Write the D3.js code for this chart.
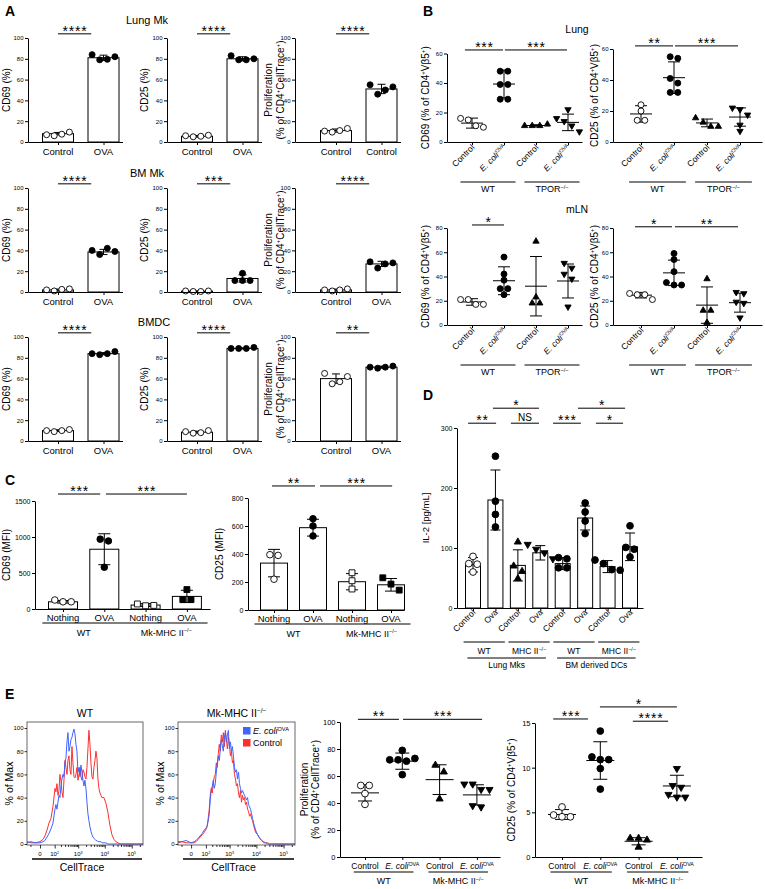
<!DOCTYPE html>
<html>
<head>
<meta charset="utf-8">
<script src="https://cdn.jsdelivr.net/npm/d3@7.9.0/dist/d3.min.js"></script>
<style>
  body { margin: 0; background: #fff; }
  svg { display: block; background: #fff; }
</style>
</head>
<body>
<svg id="fig" width="765" height="889"></svg>
<script>
const FONT = '"Liberation Sans", Arial, Helvetica, sans-serif';

// ---------------- Panel A ----------------
const aCats = ['Control', 'OVA'];
const aCatsLungProlif = ['Control', 'Control']; // printed this way in the figure
const aTicks = [0, 20, 40, 60, 80, 100];
const aTitles = ['Lung Mk', 'BM Mk', 'BMDC'];
const aYLabels = [['CD69 (%)'], ['CD25 (%)'], ['Proliferation', '(% of CD4^{+}CellTrace^{+})']];

// per row: [CD69, CD25, proliferation], each [control, OVA]
const lungMkMeans = [[8, 81], [5.5, 80], [11, 51]];
const lungMkSds = [[1.2, 2.5], [0.8, 2], [1.5, 4.5]];
const lungMkPts = [
  [[7, 6, 7.5, 9.5], [84, 79, 79.5, 82]],
  [[6, 5, 5.5, 6.5], [83, 79, 79, 80]],
  [[10.5, 9.5, 11, 13], [55, 46, 50, 53]]
];
const lungMkStars = ['****', '****', '****'];

const bmMkMeans = [[2, 38.5], [0.8, 13], [2, 27]];
const bmMkSds = [[0.8, 2.5], [0.3, 3.5], [0.8, 2.5]];
const bmMkPts = [
  [[2, 1, 2.5, 3], [40, 36, 42, 39]],
  [[1, 0.5, 0.5, 1], [11, 11, 11, 18]],
  [[2, 1, 2, 3], [29, 23, 27, 28]]
];
const bmMkStars = ['****', '***', '****'];

const bmdcMeans = [[10, 84], [8.5, 89], [60, 71]];
const bmdcSds = [[0.8, 1], [1, 0.5], [4.5, 1]];
const bmdcPts = [
  [[10, 9, 10, 11], [84, 83, 84, 86]],
  [[9, 7.5, 8, 10], [89, 89, 89, 90]],
  [[65, 55, 57, 62], [71, 70, 71, 72]]
];
const bmdcStars = ['****', '****', '**'];

// ---------------- Panel B ----------------
const bCats = ['Control', '*{E. coli}^{OVA}', 'Control', '*{E. coli}^{OVA}'];
const bGroups = ['WT', 'TPOR^{−/−}'];
const bShapes = ['circleOpen', 'circle', 'triUp', 'triDown'];

const lungCD69Mean = [12.8, 39.3, 11.2, 13.3];
const lungCD69Sd = [3.4, 9.5, 0.5, 5.6];
const lungCD69Pts = [[16, 15, 11, 10], [48, 48, 39, 39, 29, 29], [11, 11, 11, 12], [22, 16, 14, 11, 7]];

const lungCD25Mean = [18.1, 41.5, 12.3, 16.1];
const lungCD25Sd = [5.3, 10.2, 2.5, 5.9];
const lungCD25Pts = [[24, 20, 14, 14], [55, 54, 41, 38, 32, 32], [15.5, 12.7, 10, 10], [22, 21, 17.5, 11, 7]];

const mlnCD69Mean = [19, 36.5, 32, 36.3];
const mlnCD69Sd = [2.7, 11.5, 24.5, 14];
const mlnCD69Pts = [[21, 21, 17, 17], [56, 42, 37, 30, 30, 25], [69, 23, 18, 18], [51, 47, 42, 38, 15]];

const mlnCD25Mean = [24.6, 43, 16.4, 18.4];
const mlnCD25Sd = [2.3, 10.5, 15, 7.8];
const mlnCD25Pts = [[26, 25, 25, 21], [59, 54, 44, 35, 33, 33], [38, 12, 12, 2], [27, 26, 19, 18, 6]];

// ---------------- Panel C ----------------
const cCats = ['Nothing', 'OVA', 'Nothing', 'OVA'];
const cGroups = ['WT', 'Mk-MHC II^{−/−}'];
const cShapes = ['circleOpen', 'circle', 'squareOpen', 'square'];

const cd69MfiMean = [100, 830, 55, 175];
const cd69MfiSd = [18, 215, 20, 85];
const cd69MfiPts = [[125, 100, 100], [970, 945, 580], [70, 45, 50], [270, 130, 130]];

const cd25MfiMean = [335, 588, 202, 180];
const cd25MfiSd = [98, 60, 58, 45];
const cd25MfiPts = [[395, 390, 220], [652, 600, 529], [266, 209, 150], [230, 185, 142]];

// ---------------- Panel D ----------------
const dCats = ['Control', 'Ova', 'Control', 'Ova', 'Control', 'Ova', 'Control', 'Ova'];
const dGroups1 = ['WT', 'MHC II^{−/−}', 'WT', 'MHC II^{−/−}'];
const dGroups2 = ['Lung Mks', 'BM derived DCs'];
const dShapes = ['circleOpen', 'circle', 'triUp', 'triDown', 'circle', 'circle', 'circle', 'circle'];
const il2Mean = [72, 180, 71, 92, 74, 150, 69, 102];
const il2Sd = [12, 50, 26, 12, 10, 20, 10, 23];
const il2Pts = [[86, 60, 74, 73], [253, 178, 156, 135], [110, 70, 61, 49], [106, 98, 92, 82],
                [84, 82, 67, 67], [175, 160, 145, 124], [80, 74, 64, 63], [137, 101, 98, 85]];

// ---------------- Panel E ----------------
const ctGrid = [-81, -46, -21, 0, 12, 21, 33, 46, 62, 81,
  104, 116, 130, 146, 162, 180, 200, 221, 244, 270,
  297, 327, 360, 395, 434, 476, 522, 572, 626, 686,
  751, 821, 897, 981, 1072, 1171, 1278, 1396, 1524, 1663,
  1814, 1980, 2160, 2355, 2568, 2800, 3052, 3328, 3628, 3956,
  4308, 4696, 5116, 5580, 6080, 6620, 7212, 7860, 9328, 11072,
  13140, 15592, 18500, 21952, 26044, 30892, 36600, 262144];
const wtEcoli = [1, 2, 1, 1, 2, 3, 6, 9, 13, 18,
  30, 34, 30, 36, 42, 40, 50, 56, 60, 58,
  70, 74, 88, 96, 80, 84, 90, 92, 96, 99,
  95, 86, 80, 62, 66, 58, 68, 62, 55, 50,
  55, 48, 36, 26, 20, 15, 11, 8, 6, 5,
  4, 3, 3, 2, 2, 2, 2, 1, 1, 1,
  0, 0, 0, 0, 0, 0, 0, 0];
const wtControl = [2, 1, 1, 2, 4, 7, 12, 18, 22, 32,
  48, 45, 52, 42, 46, 60, 54, 45, 40, 55,
  72, 66, 60, 72, 76, 64, 60, 84, 70, 58,
  57, 60, 66, 55, 60, 66, 58, 55, 64, 62,
  58, 56, 66, 82, 98, 86, 70, 58, 56, 66,
  72, 80, 74, 56, 48, 44, 42, 40, 40, 35,
  27, 16, 8, 4, 2, 1, 0, 0];
const mhcEcoli = [2, 2, 3, 1, 2, 3, 5, 7, 9, 12,
  14, 16, 20, 26, 38, 46, 50, 55, 48, 52,
  62, 70, 76, 72, 82, 90, 85, 80, 92, 96,
  88, 94, 98, 82, 88, 80, 84, 76, 66, 62,
  64, 56, 62, 52, 48, 44, 46, 44, 42, 40,
  38, 40, 34, 32, 30, 26, 22, 18, 12, 8,
  5, 3, 1, 1, 0, 0, 0, 0];
const mhcControl = [1, 2, 1, 1, 1, 2, 4, 6, 8, 10,
  13, 15, 22, 30, 42, 48, 44, 52, 58, 60,
  70, 66, 78, 86, 80, 94, 88, 96, 84, 98,
  90, 82, 92, 86, 76, 80, 70, 72, 60, 56,
  50, 52, 44, 40, 46, 36, 42, 38, 40, 34,
  36, 30, 28, 24, 26, 22, 20, 16, 10, 8,
  5, 3, 2, 1, 1, 0, 0, 0];
const histMajor = [0, 100, 1000, 10000, 100000];
const histLabels = ['0', '10^{2}', '10^{3}', '10^{4}', '10^{5}'];

const eCats = ['Control', '*{E. coli}^{OVA}', 'Control', '*{E. coli}^{OVA}'];
const eGroups = ['WT', 'Mk-MHC II^{−/−}'];
const eShapes = ['circleOpen', 'circle', 'triUp', 'triDown'];
const eProlifMean = [47.5, 71, 57.3, 46];
const eProlifSd = [6, 6, 11, 7.5];
const eProlifPts = [[53, 53, 47, 39], [79, 72, 72, 71, 73, 61], [68, 63, 43], [54, 54, 50, 50, 38, 37]];
const eCD25Mean = [4.76, 10.8, 1.76, 7.95];
const eCD25Sd = [0.55, 2.1, 0.4, 1.2];
const eCD25Pts = [[5.6, 4.7, 4.5, 4.5], [14.1, 11.2, 10.9, 10.9, 9.9, 7.6], [2.1, 2.1, 1.9, 1.1], [9.9, 8, 7.8, 7, 6.7, 6.7]];

const BLUE = '#3f63ff', RED = '#ff2e2e';

// ---------------- helpers ----------------
const svg = d3.select('#fig');

// "^{..}" = superscript, "*{..}" = italic
function rich(sel, str) {
  const fs = parseFloat(sel.attr('font-size'));
  const parts = str.match(/\^\{[^}]*\}|\*\{[^}]*\}|[^^*]+/g);
  let shift = 0;
  parts.forEach(p => {
    let t = p, sup = false, it = false;
    if (p.startsWith('^{')) { t = p.slice(2, -1); sup = true; }
    else if (p.startsWith('*{')) { t = p.slice(2, -1); it = true; }
    const target = sup ? -fs * 0.38 : 0;
    const ts = sel.append('tspan').text(t).attr('dy', target - shift);
    shift = target;
    if (sup) ts.attr('font-size', fs * 0.62);
    if (it) ts.attr('font-style', 'italic');
  });
}

function txt(g, x, y, fs, anchor) {
  return g.append('text').attr('x', x).attr('y', y).attr('font-size', fs)
    .attr('font-family', FONT).attr('text-anchor', anchor || 'middle').attr('fill', '#000');
}

function seg(g, x1, y1, x2, y2, w) {
  g.append('line').attr('x1', x1).attr('y1', y1).attr('x2', x2).attr('y2', y2)
    .attr('stroke', '#000').attr('stroke-width', w || 1);
}

function symbolPath(shape, r) {
  if (shape.startsWith('tri')) return d3.symbol().type(d3.symbolTriangle).size(r * r * 1.9)();
  if (shape.startsWith('square')) return d3.symbol().type(d3.symbolSquare).size(r * r * 3.2)();
  return d3.symbol().type(d3.symbolCircle).size(Math.PI * r * r)();
}

// spread points that would overlap vertically side by side
function swarm(vals, y, r) {
  const order = d3.range(vals.length).sort((a, b) => vals[b] - vals[a]);
  const off = vals.map(() => 0);
  let cl = [order[0]];
  const flush = () => {
    const m = cl.length;
    cl.slice().sort((a, b) => a - b).forEach((k, j) => { off[k] = (j - (m - 1) / 2) * (2 * r + 1.6); });
  };
  for (let k = 1; k < order.length; k++) {
    if (Math.abs(y(vals[order[k]]) - y(vals[cl[cl.length - 1]])) < 2 * r) cl.push(order[k]);
    else { flush(); cl = [order[k]]; }
  }
  flush();
  return off;
}

function panel(c) {
  const g = svg.append('g');
  const n = c.cats.length;
  const y = d3.scaleLinear().domain([0, c.ymax]).range([c.yBot, c.yTop]);
  const x = d3.scaleLinear()
    .domain([(c.ax - c.c0) / c.step, (c.xEnd - c.c0) / c.step])
    .range([c.ax, c.xEnd]);

  c.means.forEach((m, i) => {
    const cx = x(i), s = c.sds[i];
    if (c.barW) {
      g.append('rect').attr('x', cx - c.barW / 2).attr('y', y(m))
        .attr('width', c.barW).attr('height', c.yBot - y(m))
        .attr('fill', '#fff').attr('stroke', '#000').attr('stroke-width', 1);
    } else {
      seg(g, cx - c.meanW / 2, y(m), cx + c.meanW / 2, y(m));
    }
    seg(g, cx, y(m + s), cx, Math.min(y(m - s), c.yBot));
    seg(g, cx - c.cap / 2, y(m + s), cx + c.cap / 2, y(m + s));
    if (m - s > 0) seg(g, cx - c.cap / 2, y(m - s), cx + c.cap / 2, y(m - s));
  });

  c.pts.forEach((arr, i) => {
    const off = swarm(arr, y, c.r);
    const shape = c.shapes[i];
    arr.forEach((v, k) => {
      g.append('path').attr('d', symbolPath(shape, c.r))
        .attr('transform', `translate(${x(i) + off[k]},${y(v)})${shape === 'triDown' ? ' rotate(180)' : ''}`)
        .attr('fill', shape.endsWith('Open') ? '#fff' : '#000')
        .attr('stroke', '#000').attr('stroke-width', 0.9);
    });
  });

  const ya = g.append('g').attr('transform', `translate(${c.ax},0)`)
    .call(d3.axisLeft(y).tickValues(c.ticks).tickFormat(d3.format('d'))
      .tickSize(3).tickSizeOuter(0).tickPadding(1.5));
  ya.selectAll('text').attr('font-size', c.tickFs).attr('font-family', FONT).attr('fill', '#000');
  g.append('g').attr('transform', `translate(0,${c.yBot})`)
    .call(d3.axisBottom(x).tickValues(d3.range(n)).tickSize(3).tickSizeOuter(0).tickFormat(''));
  g.selectAll('.domain, .tick line').attr('stroke', '#000').attr('stroke-width', 1);

  c.cats.forEach((t, i) => {
    let el;
    if (c.rot) {
      el = txt(g, 0, 0, c.labFs, 'end')
        .attr('transform', `translate(${x(i) + c.rotDx},${c.yBot + c.rotDy}) rotate(-45)`);
    } else {
      el = txt(g, x(i), c.yBot + c.labDy, c.labFs);
    }
    rich(el, t);
  });

  (c.groups || []).forEach(([i0, i1, t, lev]) => {
    const L = lev || 0;
    const ly = c.yBot + c.grpDy[L];
    const pad = c.grpPad[L] * c.step;
    seg(g, x(i0) - pad, ly, x(i1) + pad, ly);
    rich(txt(g, (x(i0) + x(i1)) / 2, ly + c.grpTy[L], c.grpFs), t);
  });

  (c.sigs || []).forEach(([i0, i1, t, v]) => {
    const ly = y(v);
    seg(g, x(i0), ly, x(i1), ly);
    if (t === 'NS') {
      txt(g, (x(i0) + x(i1)) / 2, ly - 2.5, 10).text(t);
    } else {
      txt(g, (x(i0) + x(i1)) / 2 + 0.5, ly + 2, 14).attr('letter-spacing', 0.8).text(t);
    }
  });

  c.ylab.forEach(([t, lx]) => {
    rich(txt(g, 0, 0, c.ylabFs).attr('dy', '0.35em')
      .attr('transform', `translate(${lx},${(c.yTop + c.yBot) / 2}) rotate(-90)`), t);
  });
}

function histo(c) {
  const g = svg.append('g');
  const x = d3.scaleSymlog().constant(40).domain([-81, 262144]).range([c.x0, c.x1]);
  const y = d3.scaleLinear().domain([0, 100]).range([c.y0, c.y100]);
  const line = d3.line().x((d, i) => x(ctGrid[i])).y(d => y(d));
  c.curves.forEach(([vals, col]) => {
    g.append('path').attr('d', line(vals)).attr('fill', 'none')
      .attr('stroke', col).attr('stroke-width', 1);
  });
  g.append('rect').attr('x', c.x0).attr('y', c.top).attr('width', c.x1 - c.x0)
    .attr('height', c.bot - c.top).attr('fill', 'none').attr('stroke', '#444').attr('stroke-width', 0.8);

  const ya = g.append('g').attr('transform', `translate(${c.x0},0)`)
    .call(d3.axisLeft(y).tickValues([0, 20, 40, 60, 80, 100]).tickSize(2.5).tickPadding(1));
  ya.select('.domain').remove();
  ya.selectAll('text').attr('font-size', 6).attr('font-family', FONT).attr('fill', '#000');

  const minor = d3.range(200, 1000, 100).concat(d3.range(2000, 10000, 1000), d3.range(20000, 100000, 10000), [200000, -50]);
  const xm = g.append('g').attr('transform', `translate(0,${c.bot})`)
    .call(d3.axisBottom(x).tickValues(minor).tickSize(2).tickFormat(''));
  xm.select('.domain').remove();
  const xa = g.append('g').attr('transform', `translate(0,${c.bot})`)
    .call(d3.axisBottom(x).tickValues(histMajor).tickSize(3.5).tickPadding(1).tickFormat(''));
  xa.select('.domain').remove();
  histMajor.forEach((v, i) => rich(txt(g, x(v), c.bot + 11, 6), histLabels[i]));
  g.selectAll('.tick line').attr('stroke', '#000').attr('stroke-width', 0.8);

  seg(g, c.x0 + 5, c.bot + 14, c.x1 - 1, c.bot + 14, 1.6);
  txt(g, (c.x0 + c.x1) / 2 - 3, c.bot + 26, 10.5).text('CellTrace');
  rich(txt(g, (c.x0 + c.x1) / 2, c.top - 5, 10.5), c.title);
  txt(g, 0, 0, 10.5).attr('dy', '0.35em')
    .attr('transform', `translate(${c.x0 - 18},${(c.top + c.bot) / 2}) rotate(-90)`).text('% of Max');
}

// ---------------- panel letters ----------------
[['A', 5, 16], ['B', 423, 16], ['C', 5, 485], ['D', 423, 400], ['E', 5, 699]].forEach(([t, x, y]) => {
  txt(svg, x, y, 14, 'start').attr('font-weight', 'bold').text(t);
});

// ---------------- draw A ----------------
const aRowY = [[142, 38], [292, 188], [441, 337]];
const aColX = [[28, 58], [167, 197], [295, 336]];
const aYLabX = [[10], [148], [272, 283.5]];
const aTitleX = [[147, 24], [147, 177], [154, 326]];
const aRowData = [[lungMkMeans, lungMkSds, lungMkPts, lungMkStars],
                  [bmMkMeans, bmMkSds, bmMkPts, bmMkStars],
                  [bmdcMeans, bmdcSds, bmdcPts, bmdcStars]];
aRowData.forEach(([means, sds, pts, stars], r) => {
  txt(svg, aTitleX[r][0], aTitleX[r][1], 11).text(aTitles[r]);
  for (let k = 0; k < 3; k++) {
    panel({
      ax: aColX[k][0], c0: aColX[k][1], step: 45.5, xEnd: aColX[k][1] + 45.5 + 19,
      yBot: aRowY[r][0], yTop: aRowY[r][1], ymax: 100, ticks: aTicks, tickFs: 6,
      cats: (r === 0 && k === 2) ? aCatsLungProlif : aCats, labFs: 9.5, labDy: 13,
      means: means[k], sds: sds[k], pts: pts[k], shapes: ['circleOpen', 'circle'],
      barW: 31, cap: 8, r: 3,
      sigs: [[0, 0.73, stars[k], 104]],
      ylab: aYLabels[k].map((t, j) => [t, aYLabX[k][j]]), ylabFs: 10
    });
  }
});

// ---------------- draw B ----------------
txt(svg, 577, 33, 10.5).text('Lung');
txt(svg, 577, 213, 10.5).text('mLN');
const bCommon = {
  cats: bCats, rot: true, labFs: 8.5, rotDx: 3, rotDy: 6, tickFs: 6,
  shapes: bShapes, r: 3, meanW: 22, cap: 12,
  groups: [[0, 1, bGroups[0]], [2, 3, bGroups[1]]], grpDy: [40], grpTy: [10], grpPad: [0.36], grpFs: 9,
  ylabFs: 10
};
panel(Object.assign({}, bCommon, {
  ax: 447, c0: 472, step: 32, xEnd: 582, yBot: 142, yTop: 53.5, ymax: 60, ticks: [0, 20, 40, 60],
  means: lungCD69Mean, sds: lungCD69Sd, pts: lungCD69Pts,
  sigs: [[-0.22, 0.97, '***', 62.4], [1.03, 2.97, '***', 62.4]],
  ylab: [['CD69 (% of CD4^{+}Vβ5^{+})', 428.5]]
}));
panel(Object.assign({}, bCommon, {
  ax: 613, c0: 641, step: 33, xEnd: 762, yBot: 142, yTop: 49, ymax: 60, ticks: [0, 20, 40, 60],
  means: lungCD25Mean, sds: lungCD25Sd, pts: lungCD25Pts,
  sigs: [[-0.18, 0.97, '**', 62], [1.03, 2.94, '***', 62]],
  ylab: [['CD25 (% of CD4^{+}Vβ5^{+})', 597.5]]
}));
panel(Object.assign({}, bCommon, {
  ax: 447, c0: 472, step: 32, xEnd: 582, yBot: 325, yTop: 228, ymax: 80, ticks: [0, 20, 40, 60, 80],
  means: mlnCD69Mean, sds: mlnCD69Sd, pts: mlnCD69Pts,
  sigs: [[0, 1, '*', 82.5]],
  ylab: [['CD69 (% of CD4^{+}Vβ5^{+})', 428.5]]
}));
panel(Object.assign({}, bCommon, {
  ax: 613, c0: 641, step: 33, xEnd: 762, yBot: 325, yTop: 228, ymax: 80, ticks: [0, 20, 40, 60, 80],
  means: mlnCD25Mean, sds: mlnCD25Sd, pts: mlnCD25Pts,
  sigs: [[-0.18, 0.94, '*', 81], [1.03, 2.94, '**', 81]],
  ylab: [['CD25 (% of CD4^{+}Vβ5^{+})', 598]]
}));

// ---------------- draw C ----------------
const cCommon = {
  cats: cCats, labFs: 9.5, labDy: 11.5, tickFs: 7, shapes: cShapes, r: 3.3, cap: 12,
  groups: [[0, 1, cGroups[0]], [2, 3, cGroups[1]]], grpDy: [14], grpTy: [12.5], grpPad: [0.5], grpFs: 9,
  ylabFs: 10
};
panel(Object.assign({}, cCommon, {
  ax: 35, c0: 63, step: 41.3, xEnd: 210, yBot: 609, yTop: 501, ymax: 1500, ticks: [0, 500, 1000, 1500],
  means: cd69MfiMean, sds: cd69MfiSd, pts: cd69MfiPts, barW: 29,
  sigs: [[-0.12, 0.9, '***', 1597], [1.04, 3.0, '***', 1597]],
  ylab: [['CD69 (MFI)', 10]]
}));
panel(Object.assign({}, cCommon, {
  ax: 248, c0: 274, step: 39, xEnd: 404, yBot: 610, yTop: 498, ymax: 800, ticks: [0, 200, 400, 600, 800],
  means: cd25MfiMean, sds: cd25MfiSd, pts: cd25MfiPts, barW: 27,
  sigs: [[-0.05, 1.05, '**', 886], [1.18, 3.03, '***', 886]],
  ylab: [['CD25 (MFI)', 223]]
}));

// ---------------- draw D ----------------
panel({
  ax: 457, c0: 473, step: 22.43, xEnd: 643, yBot: 608, yTop: 428, ymax: 300, ticks: [0, 100, 200, 300], tickFs: 7,
  cats: dCats, rot: true, labFs: 8.5, rotDx: 3, rotDy: 5,
  means: il2Mean, sds: il2Sd, pts: il2Pts, shapes: dShapes, barW: 15, cap: 10, r: 3.4,
  groups: [[0, 1, dGroups1[0]], [2, 3, dGroups1[1]], [4, 5, dGroups1[2]], [6, 7, dGroups1[3]],
           [0, 3, dGroups2[0], 1], [4, 7, dGroups2[1], 1]],
  grpDy: [34, 50], grpTy: [12, 9.5], grpPad: [0.42, 0.25], grpFs: 8.5,
  sigs: [[-0.22, 1.03, '**', 308], [1.69, 2.94, 'NS', 308], [0.89, 2.94, '*', 333],
         [3.57, 4.81, '***', 308], [4.68, 6.78, '*', 333], [5.48, 6.69, '*', 308]],
  ylab: [['IL-2 [pg/mL]', 429]], ylabFs: 9.5
});

// ---------------- draw E ----------------
histo({ x0: 27, x1: 143, top: 722, bot: 845, y0: 844, y100: 728, title: 'WT',
        curves: [[wtControl, RED], [wtEcoli, BLUE]] });
histo({ x0: 178, x1: 295, top: 722, bot: 845, y0: 844, y100: 728, title: 'Mk-MHC II^{−/−}',
        curves: [[mhcControl, RED], [mhcEcoli, BLUE]] });
// legend
[[BLUE, '*{E. coli}^{OVA}', 727], [RED, 'Control', 739]].forEach(([col, t, yy]) => {
  svg.append('rect').attr('x', 243).attr('y', yy).attr('width', 7.5).attr('height', 7.5).attr('fill', col);
  rich(txt(svg, 253, yy + 7, 9, 'start'), t);
});

const eCommon = {
  cats: eCats, labFs: 8.5, labDy: 12, shapes: eShapes, r: 3.4, meanW: 28, cap: 14,
  groups: [[0, 1, eGroups[0]], [2, 3, eGroups[1]]], grpDy: [15], grpTy: [12], grpPad: [0.3], grpFs: 9,
  ylabFs: 10
};
panel(Object.assign({}, eCommon, {
  ax: 340, c0: 365, step: 37.3, xEnd: 500, yBot: 857, yTop: 722, ymax: 100,
  ticks: [0, 20, 40, 60, 80, 100], tickFs: 7.5,
  means: eProlifMean, sds: eProlifSd, pts: eProlifPts,
  sigs: [[-0.19, 0.91, '**', 102], [1.02, 3.14, '***', 102]],
  ylab: [['Proliferation', 308], ['(% of CD4^{+}CellTrace^{+})', 318.5]]
}));
panel(Object.assign({}, eCommon, {
  ax: 535, c0: 562, step: 38.3, xEnd: 702, yBot: 857, yTop: 723, ymax: 15,
  ticks: [0, 5, 10, 15], tickFs: 7.5,
  means: eCD25Mean, sds: eCD25Sd, pts: eCD25Pts,
  sigs: [[-0.23, 0.68, '***', 15.45], [1.85, 2.77, '****', 15.2], [0.99, 3.0, '*', 16.8]],
  ylab: [['CD25 (% of CD4^{+}Vβ5^{+})', 514.5]]
}));
</script>
</body>
</html>
